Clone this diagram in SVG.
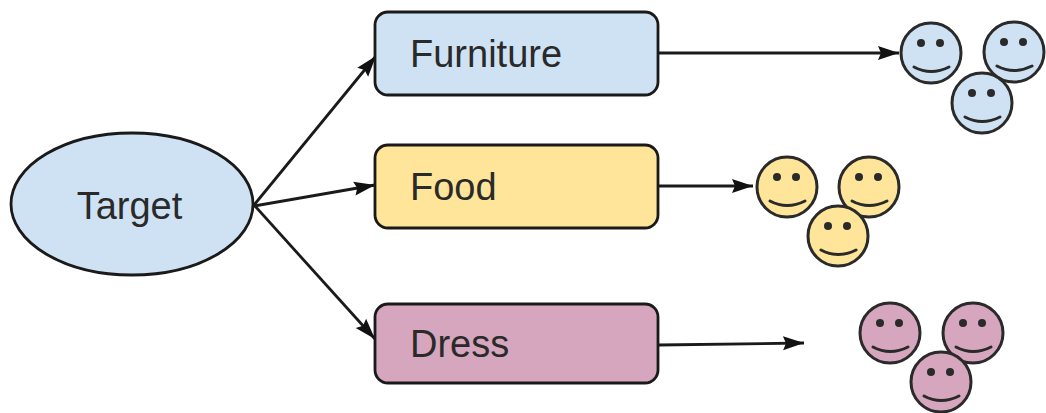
<svg xmlns="http://www.w3.org/2000/svg" width="1046" height="413" viewBox="0 0 1046 413">
<style>
.s{stroke:#1a1a1a;stroke-width:2.8}
.t{font-family:"Liberation Sans",Arial,sans-serif;font-size:38px;fill:#2a2a2a}
.c{stroke:#1a1a1a;stroke-width:2.8;fill:none;marker-end:url(#a)}
.m{fill:none;stroke:#2a2a2a;stroke-width:3;stroke-linecap:round}
.e{fill:#2a2a2a}
.b{fill:#cfe2f3}.y{fill:#ffe599}.p{fill:#d5a6bd}
</style>
<defs>
<marker id="a" markerUnits="userSpaceOnUse" markerWidth="24" markerHeight="18" refX="21" refY="9" orient="auto"><path d="M0 2L21 9L0 16L3 9Z" fill="#111"/></marker>
<g id="f"><circle r="30" fill="inherit" stroke="#2a2a2a" stroke-width="3"/><circle class="e" cx="-10" cy="-10" r="4"/><circle class="e" cx="9" cy="-10" r="4"/><path class="m" d="M-17 14Q0 23 18 14"/></g>
</defs>
<rect width="1046" height="413" fill="#fff"/>
<g id="connectors">
<path class="c" d="M254 205L376 56"/>
<path class="c" d="M254 206L375 185"/>
<path class="c" d="M254 205L375 339"/>
<path class="c" d="M659 53L899 53"/>
<path class="c" d="M659 186L753 186"/>
<path class="c" d="M659 345L804 343"/>
</g>
<g id="target"><ellipse class="s b" cx="132" cy="204" rx="121" ry="71"/><text class="t" x="129.500" y="219" text-anchor="middle">Target</text></g>
<g id="furniture"><rect class="s b" x="375" y="12" width="283" height="83" rx="13"/><text class="t" x="410" y="67">Furniture</text></g>
<g id="food"><rect class="s y" x="375" y="145" width="283" height="83" rx="13"/><text class="t" x="410" y="200">Food</text></g>
<g id="dress"><rect class="s p" x="375" y="304" width="283" height="79" rx="13"/><text class="t" x="410" y="357">Dress</text></g>
<g id="blue-faces" class="b"><use href="#f" x="931" y="53"/><use href="#f" x="1014" y="52"/><use href="#f" x="982" y="103"/></g>
<g id="yellow-faces" class="y"><use href="#f" x="787" y="187"/><use href="#f" x="869" y="187"/><use href="#f" x="838" y="236"/></g>
<g id="pink-faces" class="p"><use href="#f" x="890" y="333"/><use href="#f" x="973" y="333"/><use href="#f" x="941" y="382"/></g>
</svg>
